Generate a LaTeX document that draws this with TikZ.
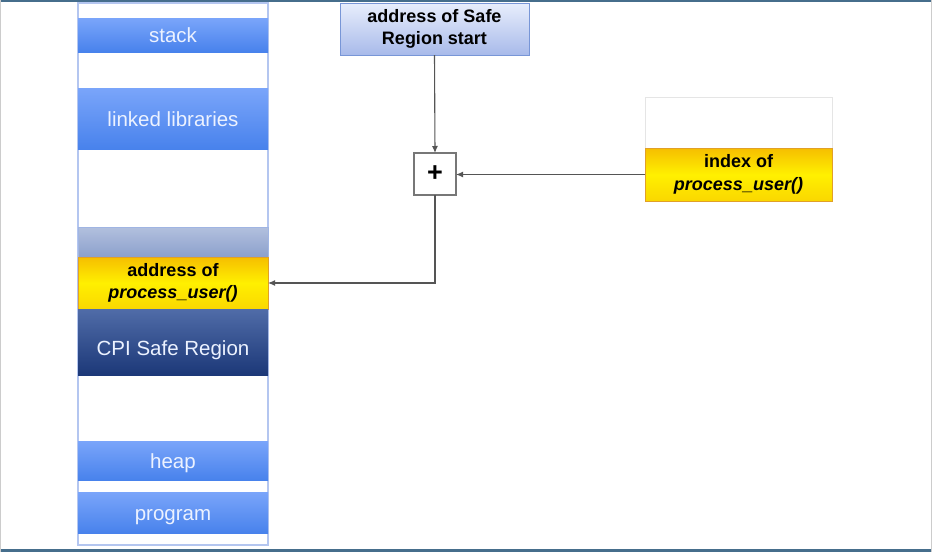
\documentclass[tikz,border=0pt]{standalone}
\usepackage{fontspec}
\setmainfont{Liberation Sans}
\usetikzlibrary{arrows.meta}
\definecolor{frameline}{RGB}{70,110,140}
\definecolor{colborder}{RGB}{180,198,240}
\definecolor{bluetop}{RGB}{122,165,250}
\definecolor{bluebot}{RGB}{72,130,236}
\definecolor{bluetxt}{RGB}{236,242,255}
\definecolor{hdrtop}{RGB}{232,238,252}
\definecolor{hdrbot}{RGB}{168,186,234}
\definecolor{hdrborder}{RGB}{120,150,215}
\definecolor{graytop}{RGB}{178,192,222}
\definecolor{graybot}{RGB}{140,160,204}
\definecolor{ytop}{RGB}{246,190,0}
\definecolor{ymid}{RGB}{255,240,0}
\definecolor{ybot}{RGB}{250,215,0}
\definecolor{yborder}{RGB}{225,160,40}
\definecolor{dtop}{RGB}{80,108,168}
\definecolor{dbot}{RGB}{28,56,120}
\definecolor{conn}{RGB}{85,85,85}
\tikzset{
  box/.style={rectangle, inner sep=0pt, outer sep=0pt, anchor=north west, align=center},
  bluebox/.style={box, top color=bluetop, bottom color=bluebot, text=bluetxt, font=\fontsize{20.5}{23}\selectfont, minimum width=190pt, text height=16.5pt, text depth=1.5pt},
  yellowbox/.style={box, top color=ytop, bottom color=ybot, middle color=ymid, draw=yborder, line width=0.8pt, font=\bfseries\fontsize{18}{22.5}\selectfont},
  conline/.style={draw=conn, line width=1.1pt, -{Latex[length=7pt,width=6pt]}}
}
\begin{document}
\begin{tikzpicture}[x=1pt,y=-1pt]
\useasboundingbox (0,0) rectangle (932,552);
\fill[white] (0,0) rectangle (932,552);
% frame lines
\fill[frameline] (0,0) rectangle (932,1.5);
\fill[frameline] (0,549) rectangle (932,552);
\fill[gray!40] (0,0) rectangle (1.2,552);
\fill[gray!40] (930.8,0) rectangle (932,552);

% memory column
\node[box, draw=colborder, line width=1.5pt, minimum width=190pt, minimum height=542pt] (col) at (78,3) {};
\node[bluebox, minimum height=34pt] (stack) at (78,18) {stack};
\node[bluebox, minimum height=61pt] (libs) at (78,88) {linked libraries};
\node[box, top color=graytop, bottom color=graybot, draw=hdrborder!70, line width=0.6pt, minimum width=190pt, minimum height=30pt] (gray) at (78,227) {};
\node[yellowbox, minimum width=190pt, minimum height=52pt] (addr) at (78,257) {address of\\\textit{process\_user()}};
\node[box, top color=dtop, bottom color=dbot, minimum width=190pt, minimum height=66pt] (cpi) at (78,309) {};
\node[text=bluetxt, font=\fontsize{20.5}{23}\selectfont, inner sep=0pt] (cpitxt) at ([yshift=-8pt]cpi.center) {CPI Safe Region};
\node[bluebox, minimum height=39pt] (heap) at (78,441) {heap};
\node[bluebox, minimum height=41pt] (prog) at (78,492) {program};

% header box
\node[box, top color=hdrtop, bottom color=hdrbot, draw=hdrborder, line width=0.8pt, font=\bfseries\fontsize{18}{22.5}\selectfont, minimum width=189pt, minimum height=52pt] (start) at (340,3) {address of Safe\\Region start};

% plus box
\node[box, draw=conn!80, line width=1.1pt, fill=white, minimum width=42pt, minimum height=42pt, font=\bfseries\fontsize{27}{27}\selectfont] (plus) at (414,153) {+};

% index box
\node[box, draw=gray!20, line width=0.8pt, fill=white, minimum width=187pt, minimum height=51pt] (idxtop) at (645,97) {};
\node[yellowbox, minimum width=187pt, minimum height=53pt] (idx) at (645,148) {index of\\\textit{process\_user()}};

% connectors
\draw[conline] (start.south) -- (plus.north);
\draw[conline] (idx.west) -- (idx.west -| plus.east);
\draw[conline] (plus.south) |- (addr.east);
\end{tikzpicture}
\end{document}
